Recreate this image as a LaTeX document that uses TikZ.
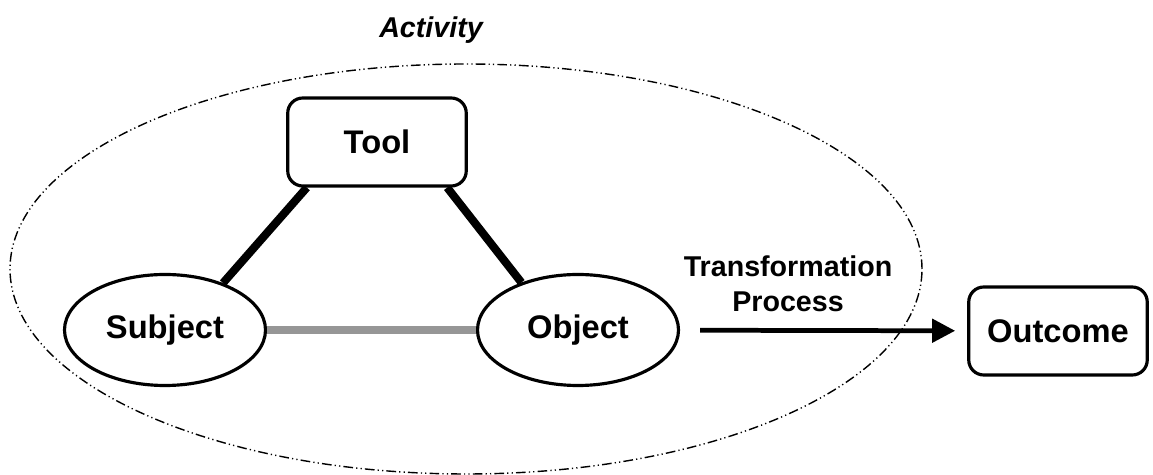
\documentclass[tikz,border=0pt]{standalone}
\usepackage{fontspec}
\setmainfont{Liberation Sans}
\usetikzlibrary{arrows.meta,shapes.geometric}

\begin{document}
\begin{tikzpicture}[
    box/.style = {draw, line width=1.8pt, rounded corners=0.3cm, inner sep=0pt,
                  minimum width=3.57cm, minimum height=1.76cm,
                  font=\fontsize{18.6}{22}\selectfont\bfseries},
    oval/.style = {draw, ellipse, line width=1.8pt, inner sep=0pt,
                   minimum width=4.02cm, minimum height=2.22cm,
                   font=\fontsize{18.6}{22}\selectfont\bfseries},
    link/.style = {line width=4.6pt}
]
    \useasboundingbox (0,0) rectangle (23.06,9.5);

    % Activity boundary
    \draw[line width=0.8pt, dash pattern=on 5.5pt off 1.8pt on 0.7pt off 1.8pt on 0.7pt off 1.8pt]
        (9.32,4.12) ellipse [x radius=9.12, y radius=4.1];
    \node (activity) at (8.62,8.9) {\fontsize{16.3}{20}\selectfont\bfseries\itshape Activity};

    % Triangle of tool, subject and object
    \node[box] (tool) at (7.54,6.66) {Tool};
    \node[oval] (subject) at (3.30,2.90) {Subject};
    \node[oval] (object) at (11.56,2.90) {Object};

    \draw[link] (tool.213) -- (subject.39);
    \draw[link] (tool.-33) -- (object.140);
    \draw[link, gray!82] (subject) -- (object);

    % Outcome of the transformation
    \node[box] (outcome) at (21.16,2.88) {Outcome};
    \node[align=center, font=\fontsize{16.3}{20}\selectfont\bfseries] (process) at (15.76,3.82)
        {Transformation\\Process};
    \draw[line width=2.7pt, -{Triangle[length=0.46cm, width=0.46cm]},
          shorten <=0.4cm, shorten >=0.24cm] (object) -- (outcome);
\end{tikzpicture}
\end{document}
